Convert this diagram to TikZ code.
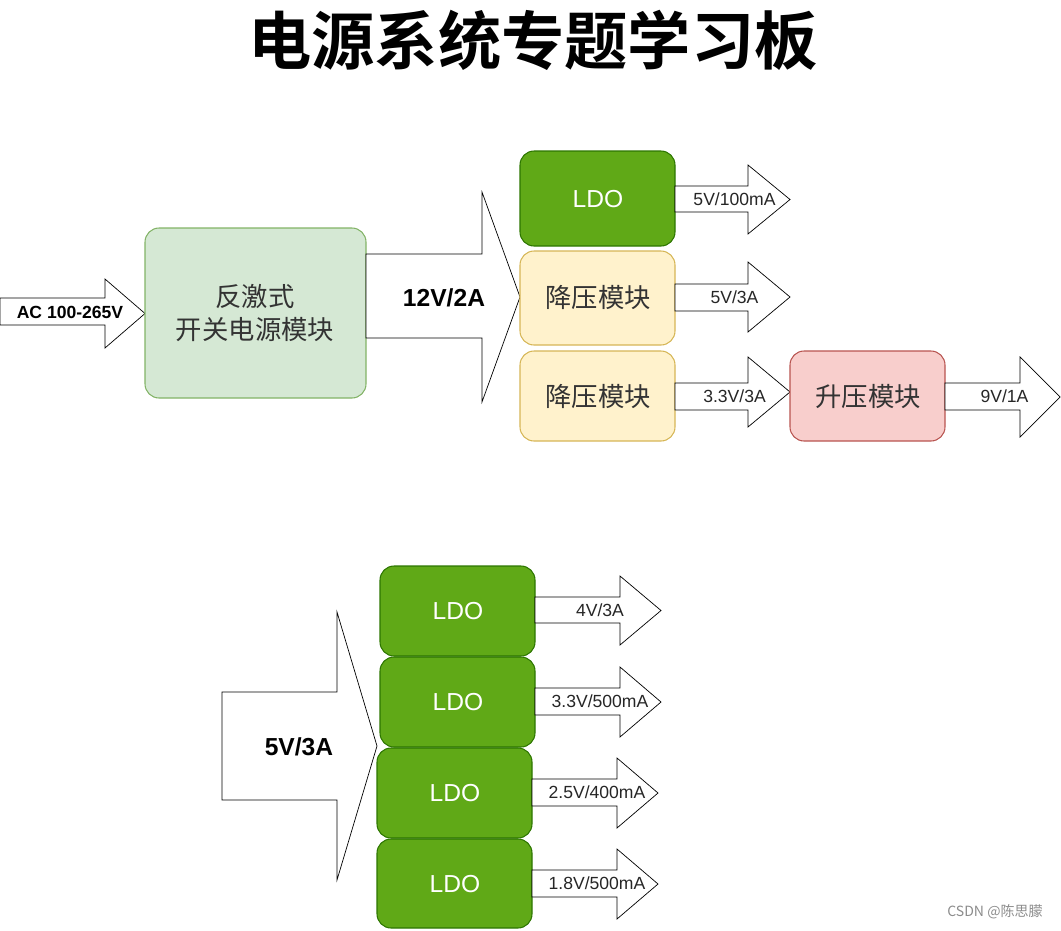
\documentclass[tikz,border=0pt]{standalone}
\usepackage{fontspec}
\setmainfont{Liberation Sans}
\newfontfamily\cjk{Noto Sans CJK SC}
\newfontfamily\cjkb{Noto Sans CJK SC Bold}
\definecolor{ldo}{HTML}{60A917}\definecolor{ldoS}{HTML}{2D7600}
\definecolor{buck}{HTML}{FFF2CC}\definecolor{buckS}{HTML}{D6B656}
\definecolor{boost}{HTML}{F8CECC}\definecolor{boostS}{HTML}{B85450}
\definecolor{flyb}{HTML}{D5E8D4}\definecolor{flybS}{HTML}{82B366}
\newcommand\farrow[8]{\draw[fill=white] (#1,#4)--(#2,#4)--(#2,#6)--(#3,{(#6+#7)/2})--(#2,#7)--(#2,#5)--(#1,#5)--cycle;
  \node[lbl] at ({(#1+#3)/2+2},{(#4+#5)/2}) {#8};}
\begin{document}
\begin{tikzpicture}[x={(0.02cm,0)},y={(0,-0.02cm)},
  box/.style={rounded corners=8pt,line width=0.6pt},
  ldob/.style={box,fill=ldo,draw=ldoS},
  lbl/.style={font=\fontsize{10}{12}\selectfont,text=black!85},
  cjkt/.style={font=\cjk\fontsize{15}{19}\selectfont,text=black!80,align=center},
  ldot/.style={font=\fontsize{14}{16}\selectfont,text=white}]
\useasboundingbox (0,0) rectangle (1061,930);
\node[font=\cjkb\fontsize{36}{40}\selectfont] (title) at (533,40) {电源系统专题学习板};
% input
\farrow{0}{105}{145}{298}{325}{279}{348}{}
\node[font=\bfseries\fontsize{10}{12}\selectfont] (ac) at (70,312) {AC 100-265V};
\draw[box,fill=flyb,draw=flybS] (145,228) rectangle (366,398);
\node[cjkt] (fly) at (255,313) {反激式\\开关电源模块};
\draw[fill=white] (366,254)--(482,254)--(482,192)--(520,297)--(482,402)--(482,338)--(366,338)--cycle;
\node[font=\bfseries\fontsize{14}{16}\selectfont] (v12) at (444,298) {12V/2A};
\draw[ldob] (520,151) rectangle (675,246); \node[ldot] (l1) at (598,199) {LDO};
\draw[box,fill=buck,draw=buckS] (520,251) rectangle (675,345); \node[cjkt] (b1) at (598,298) {降压模块};
\draw[box,fill=buck,draw=buckS] (520,351) rectangle (675,441); \node[cjkt] (b2) at (598,397) {降压模块};
\farrow{675}{748}{790}{186}{212}{165}{234}{5V/100mA}
\farrow{675}{748}{790}{284}{311}{262}{332}{5V/3A}
\farrow{675}{748}{790}{383}{410}{357}{427}{3.3V/3A}
\draw[box,fill=boost,draw=boostS] (790,351) rectangle (945,441); \node[cjkt] (bs) at (868,397) {升压模块};
\farrow{945}{1020}{1060}{383}{410}{357}{437}{9V/1A}
% bottom
\draw[fill=white] (222,692)--(337,692)--(337,612)--(377,746)--(337,880)--(337,800)--(222,800)--cycle;
\node[font=\bfseries\fontsize{14}{16}\selectfont] (v5) at (299,747) {5V/3A};
\draw[ldob] (380,566) rectangle (535,656); \node[ldot] (m1) at (458,611) {LDO};
\draw[ldob] (380,657) rectangle (535,747); \node[ldot] (m2) at (458,702) {LDO};
\draw[ldob] (377,748) rectangle (532,838); \node[ldot] (m3) at (455,793) {LDO};
\draw[ldob] (377,839) rectangle (532,928); \node[ldot] (m4) at (455,884) {LDO};
\farrow{535}{620}{661}{597}{623}{576}{645}{4V/3A}
\farrow{535}{620}{661}{688}{715}{667}{737}{3.3V/500mA}
\farrow{532}{617}{658}{779}{806}{758}{828}{2.5V/400mA}
\farrow{532}{617}{658}{870}{897}{849}{919}{1.8V/500mA}
\node[font=\cjk\fontsize{8}{10}\selectfont,text=black!45] (wm) at (995,912) {CSDN @陈思朦};
\end{tikzpicture}
\end{document}
